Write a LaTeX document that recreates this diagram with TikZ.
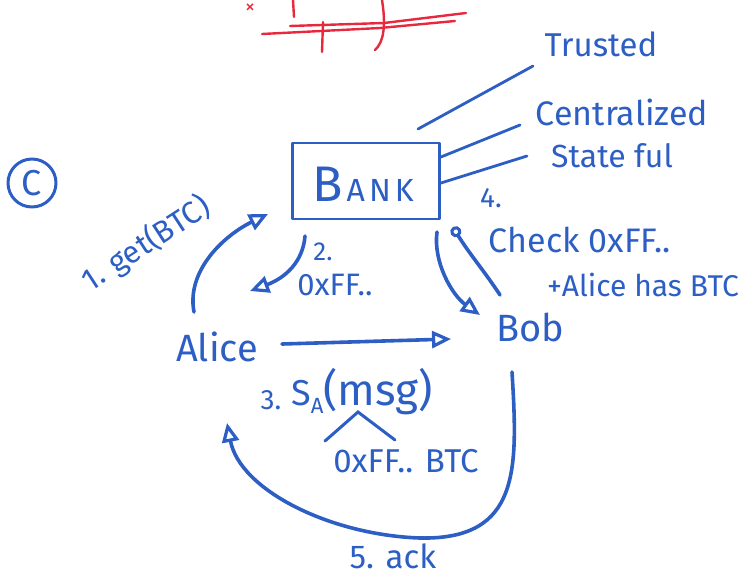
\documentclass[tikz,border=0pt]{standalone}
\usepackage{fontspec}
\setmainfont{Fira Sans}
\usetikzlibrary{arrows.meta}
\definecolor{ink}{RGB}{44,94,196}
\definecolor{redink}{RGB}{232,40,60}
\tikzset{
  pen/.style={draw=ink, line width=3.6pt, line cap=round, line join=round},
  thinpen/.style={draw=ink, line width=2.8pt, line cap=round},
  redpen/.style={draw=redink, line width=2.4pt, line cap=round},
  label/.style={text=ink, inner sep=0pt, font=#1},
  label/.default=\fontsize{28}{30}\selectfont,
  tip/.style={-{Triangle[open,length=19pt,width=17pt,line width=3.2pt]}},
}
\newcommand{\fs}[1]{\fontsize{#1}{#1}\selectfont}
\begin{document}
\begin{tikzpicture}[x=1pt,y=-1pt]
\useasboundingbox (0,0) rectangle (746,579);

% red margin note along the top edge
\node[text=redink, inner sep=0pt, font=\fs{20}] (cross) at (250,9) {×};
\draw[redpen] (293,0) -- (294,17);
\draw[redpen] (323,22) -- (322,52);
\draw[redpen] (382,0) .. controls (386,25) and (384,42) .. (375,50);
\draw[redpen] (290,26) -- (384,23) -- (466,13);
\draw[redpen] (262,34) -- (380,28) -- (455,21);

% circled C
\node[pen, line width=3pt, circle, minimum size=48pt, inner sep=0pt, text=ink, font=\fs{36}] (mark) at (32,183) {C};

% the bank
\node[pen, line width=2.8pt, minimum width=147pt, minimum height=76pt, inner sep=0pt] (bank) at (366,181) {};
\node[text=ink, inner sep=0pt] (banklbl) at (363,184) {\fs{50}B\hspace{4pt}\fs{32}A\hspace{4pt}N\hspace{4pt}K};

% properties of the bank
\node[label=\fs{33}] (trusted) at (601,44) {Trusted};
\node[label=\fs{34}] (central) at (622,112) {Centralized};
\node[label=\fs{32}] (stateful) at (612,156) {State ful};
\coordinate (t1) at (418,129);
\coordinate (t2) at (533,66);
\draw[thinpen] (t1) -- (t2);
\draw[thinpen] (bank.east |- 0,157) -- (520,125);
\draw[thinpen] (bank.east |- 0,183) -- (527,156);

% parties
\node[label=\fs{38}] (alice) at (217,347) {Alice};
\node[label=\fs{38}] (bob) at (530,327) {Bob};

% 1. Alice asks the bank
\node[label=\fs{31}, rotate=33] (l1) at (146,244) {1. get(BTC)};
\coordinate (a1s) at (194,312);
\coordinate (a1e) at (268,214);
\draw[pen, tip] (a1s) .. controls (186,270) and (225,235) .. (a1e);

% 2. bank replies
\node[label=\fs{26}] (l2n) at (323,252) {2.};
\node[label=\fs{31}] (l2) at (335,285) {0xFF..};
\coordinate (a2s) at (305,236);
\coordinate (a2e) at (250,291);
\draw[pen, tip] (a2s) .. controls (303,262) and (285,278) .. (a2e);

% 3. Alice pays Bob
\coordinate (a3s) at (282,344);
\coordinate (a3e) at (451,339);
\draw[pen, tip] (a3s) -- (a3e);
\node[label=\fs{28}] (l3n) at (271,400) {3.};
\node[text=ink, inner sep=0pt, anchor=west] (l3) at (291,392) {\fs{36}S\raisebox{-8pt}{\fs{22}A}\fs{44}(msg)};
\coordinate (c1) at (325,441);
\coordinate (c2) at (358,412);
\coordinate (c3) at (395,440);
\draw[thinpen, line width=3pt] (c1) -- (c2) -- (c3);
\node[label=\fs{33}] (l3b) at (406,461) {0xFF.. BTC};

% 4. Bob checks with the bank
\coordinate (a4s) at (437,232);
\coordinate (a4e) at (480,315);
\draw[pen, tip] (a4s) .. controls (433,262) and (452,295) .. (a4e);
\coordinate (a4b) at (500,295);
\coordinate (a4t) at (453,227);
\draw[pen, -{Circle[open,length=11pt,line width=3pt]}] (a4b) .. controls (485,272) and (468,252) .. (a4t);
\node[label=\fs{28}] (l4n) at (491,198) {4.};
\node[label=\fs{34}] (l4) at (580,240) {Check 0xFF..};
\node[label=\fs{30}] (l4b) at (643,285) {+Alice has BTC};

% 5. Bob acknowledges
\coordinate (a5s) at (512,372);
\coordinate (a5m) at (420,538);
\coordinate (a5e) at (227,423);
\draw[pen, tip] (a5s) .. controls (518,470) and (520,540) .. (a5m)
  .. controls (330,535) and (240,490) .. (a5e);
\node[label=\fs{33}] (l5) at (393,556) {5. ack};
\end{tikzpicture}
\end{document}
